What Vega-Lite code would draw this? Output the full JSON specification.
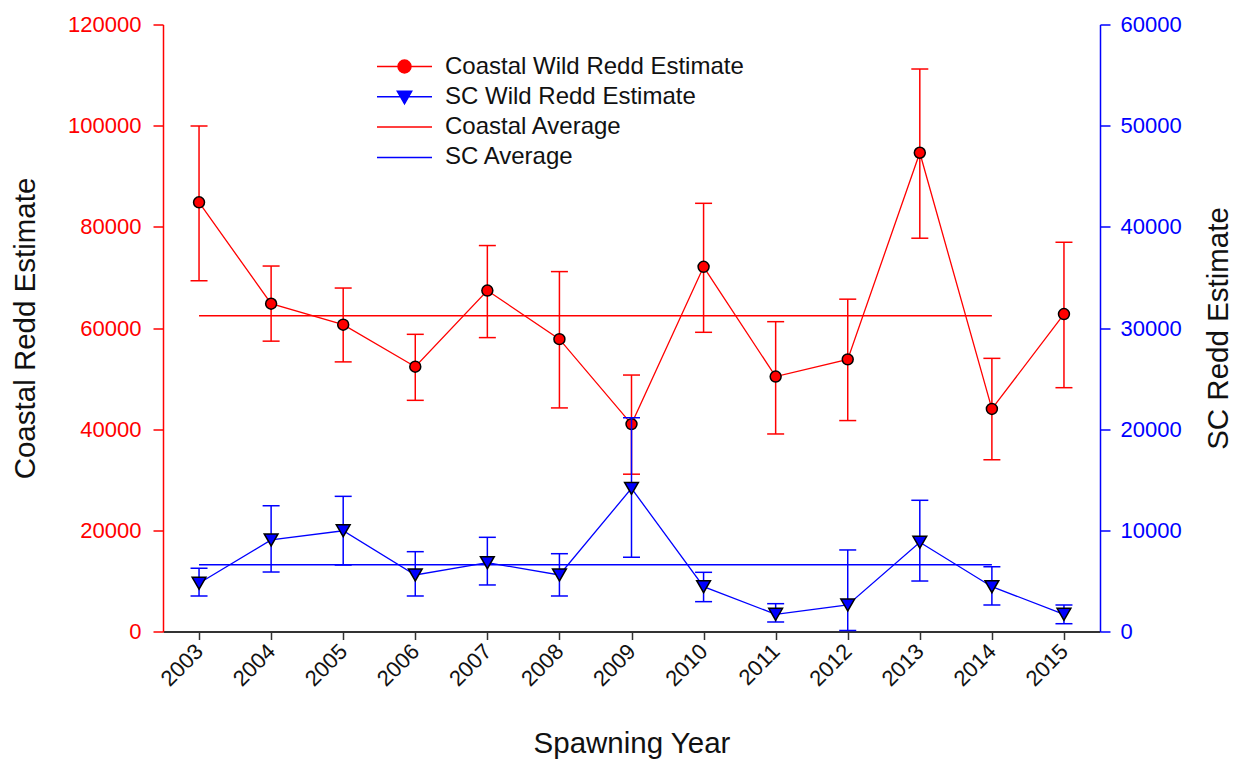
{
  "$schema": "https://vega.github.io/schema/vega-lite/v6.json",
  "width": 937,
  "height": 607,
  "autosize": {"type": "none"},
  "padding": {"left": 163, "top": 24.5, "right": 143, "bottom": 129.5},
  "background": "white",
  "config": {
    "font": "Liberation Sans",
    "view": {"stroke": null},
    "axis": {"grid": false, "titleFontWeight": "normal", "labelFont": "Liberation Sans", "titleFont": "Liberation Sans"}
  },
  "datasets": {
    "redds": [
      {"year": 2003, "coastal": 84850, "c_lo": 69350, "c_hi": 99950, "sc": 4770, "s_lo": 3510, "s_hi": 6250},
      {"year": 2004, "coastal": 64800, "c_lo": 57400, "c_hi": 72250, "sc": 9050, "s_lo": 5880, "s_hi": 12430},
      {"year": 2005, "coastal": 60650, "c_lo": 53300, "c_hi": 67900, "sc": 9960, "s_lo": 6570, "s_hi": 13360},
      {"year": 2006, "coastal": 52350, "c_lo": 45700, "c_hi": 58750, "sc": 5590, "s_lo": 3510, "s_hi": 7890},
      {"year": 2007, "coastal": 67400, "c_lo": 58100, "c_hi": 76300, "sc": 6800, "s_lo": 4600, "s_hi": 9310},
      {"year": 2008, "coastal": 57800, "c_lo": 44200, "c_hi": 71150, "sc": 5590, "s_lo": 3510, "s_hi": 7690},
      {"year": 2009, "coastal": 41000, "c_lo": 31100, "c_hi": 50700, "sc": 14150, "s_lo": 7340, "s_hi": 21130},
      {"year": 2010, "coastal": 72100, "c_lo": 59150, "c_hi": 84650, "sc": 4430, "s_lo": 2950, "s_hi": 5850},
      {"year": 2011, "coastal": 50400, "c_lo": 39050, "c_hi": 61250, "sc": 1700, "s_lo": 940, "s_hi": 2750},
      {"year": 2012, "coastal": 53800, "c_lo": 41700, "c_hi": 65700, "sc": 2620, "s_lo": 100, "s_hi": 8060},
      {"year": 2013, "coastal": 94650, "c_lo": 77750, "c_hi": 111200, "sc": 8820, "s_lo": 4990, "s_hi": 12970},
      {"year": 2014, "coastal": 44000, "c_lo": 33950, "c_hi": 54000, "sc": 4430, "s_lo": 2620, "s_hi": 6400},
      {"year": 2015, "coastal": 62750, "c_lo": 48200, "c_hi": 76950, "sc": 1700, "s_lo": 770, "s_hi": 2620}
    ],
    "avg": [
      {"year": 2003, "end": 2014, "coastal": 62430, "sc": 6600}
    ],
    "legend": [
      {"series": "Coastal Wild Redd Estimate"},
      {"series": "SC Wild Redd Estimate"},
      {"series": "Coastal Average"},
      {"series": "SC Average"}
    ]
  },
  "resolve": {"scale": {"y": "independent"}},
  "layer": [
    {
      "data": {"name": "redds"},
      "layer": [
        {
          "data": {"name": "avg"},
          "mark": {"type": "rule", "color": "#ff0000", "strokeWidth": 1.5},
          "encoding": {
            "x": {
              "field": "year", "type": "quantitative",
              "scale": {"domain": [2002.5, 2015.5], "nice": false, "zero": false},
              "axis": {
                "title": "Spawning Year",
                "values": [2003, 2004, 2005, 2006, 2007, 2008, 2009, 2010, 2011, 2012, 2013, 2014, 2015],
                "format": "d",
                "labelAngle": -45,
                "labelAlign": "right",
                "labelBaseline": "middle",
                "labelFontSize": 22,
                "labelColor": "#111111",
                "labelPadding": 8,
                "domainColor": "#333333",
                "domainWidth": 2,
                "tickColor": "#333333",
                "tickWidth": 1.5,
                "tickSize": 8,
                "titleFontSize": 29.5,
                "titleColor": "#111111",
                "titlePadding": 40
              }
            },
            "x2": {"field": "end"},
            "y": {
              "field": "coastal", "type": "quantitative",
              "scale": {"domain": [0, 120000], "nice": false},
              "axis": {
                "orient": "left",
                "title": "Coastal Redd Estimate",
                "values": [0, 20000, 40000, 60000, 80000, 100000, 120000],
                "format": "d",
                "labelColor": "#ff0000",
                "labelFontSize": 22,
                "labelPadding": 12,
                "domainColor": "#ff0000",
                "domainWidth": 1.5,
                "tickColor": "#ff0000",
                "tickWidth": 1.5,
                "tickSize": 10,
                "titleFontSize": 29.5,
                "titleColor": "#111111",
                "titlePadding": 27
              }
            }
          }
        },
        {
          "mark": {"type": "rule", "color": "#ff0000", "strokeWidth": 1.5},
          "encoding": {
            "x": {"field": "year", "type": "quantitative", "scale": {"domain": [2002.5, 2015.5], "nice": false, "zero": false}},
            "y": {"field": "c_lo", "type": "quantitative", "scale": {"domain": [0, 120000], "nice": false}},
            "y2": {"field": "c_hi"}
          }
        },
        {
          "mark": {"type": "tick", "orient": "horizontal", "color": "#ff0000", "size": 17, "thickness": 1.5, "opacity": 1},
          "encoding": {
            "x": {"field": "year", "type": "quantitative", "scale": {"domain": [2002.5, 2015.5], "nice": false, "zero": false}},
            "y": {"field": "c_lo", "type": "quantitative", "scale": {"domain": [0, 120000], "nice": false}}
          }
        },
        {
          "mark": {"type": "tick", "orient": "horizontal", "color": "#ff0000", "size": 17, "thickness": 1.5, "opacity": 1},
          "encoding": {
            "x": {"field": "year", "type": "quantitative", "scale": {"domain": [2002.5, 2015.5], "nice": false, "zero": false}},
            "y": {"field": "c_hi", "type": "quantitative", "scale": {"domain": [0, 120000], "nice": false}}
          }
        },
        {
          "mark": {"type": "line", "color": "#ff0000", "strokeWidth": 1.3},
          "encoding": {
            "x": {"field": "year", "type": "quantitative", "scale": {"domain": [2002.5, 2015.5], "nice": false, "zero": false}},
            "y": {"field": "coastal", "type": "quantitative", "scale": {"domain": [0, 120000], "nice": false}}
          }
        },
        {
          "mark": {"type": "point", "shape": "circle", "filled": true, "fill": "#ff0000", "stroke": "#000000", "strokeWidth": 1.5, "size": 120, "opacity": 1},
          "encoding": {
            "x": {"field": "year", "type": "quantitative", "scale": {"domain": [2002.5, 2015.5], "nice": false, "zero": false}},
            "y": {"field": "coastal", "type": "quantitative", "scale": {"domain": [0, 120000], "nice": false}}
          }
        }
      ]
    },
    {
      "data": {"name": "redds"},
      "layer": [
        {
          "data": {"name": "avg"},
          "mark": {"type": "rule", "color": "#0000ff", "strokeWidth": 1.5},
          "encoding": {
            "x": {"field": "year", "type": "quantitative", "scale": {"domain": [2002.5, 2015.5], "nice": false, "zero": false}},
            "x2": {"field": "end"},
            "y": {
              "field": "sc", "type": "quantitative",
              "scale": {"domain": [0, 60000], "nice": false},
              "axis": {
                "orient": "right",
                "title": "SC Redd Estimate",
                "titleAngle": 270,
                "values": [0, 10000, 20000, 30000, 40000, 50000, 60000],
                "format": "d",
                "labelColor": "#0000ff",
                "labelFontSize": 22,
                "labelPadding": 10,
                "domainColor": "#0000ff",
                "domainWidth": 1.5,
                "tickColor": "#0000ff",
                "tickWidth": 1.5,
                "tickSize": 10,
                "titleFontSize": 29.5,
                "titleColor": "#111111",
                "titlePadding": 52
              }
            }
          }
        },
        {
          "mark": {"type": "rule", "color": "#0000ff", "strokeWidth": 1.5},
          "encoding": {
            "x": {"field": "year", "type": "quantitative", "scale": {"domain": [2002.5, 2015.5], "nice": false, "zero": false}},
            "y": {"field": "s_lo", "type": "quantitative", "scale": {"domain": [0, 60000], "nice": false}},
            "y2": {"field": "s_hi"}
          }
        },
        {
          "mark": {"type": "tick", "orient": "horizontal", "color": "#0000ff", "size": 17, "thickness": 1.5, "opacity": 1},
          "encoding": {
            "x": {"field": "year", "type": "quantitative", "scale": {"domain": [2002.5, 2015.5], "nice": false, "zero": false}},
            "y": {"field": "s_lo", "type": "quantitative", "scale": {"domain": [0, 60000], "nice": false}}
          }
        },
        {
          "mark": {"type": "tick", "orient": "horizontal", "color": "#0000ff", "size": 17, "thickness": 1.5, "opacity": 1},
          "encoding": {
            "x": {"field": "year", "type": "quantitative", "scale": {"domain": [2002.5, 2015.5], "nice": false, "zero": false}},
            "y": {"field": "s_hi", "type": "quantitative", "scale": {"domain": [0, 60000], "nice": false}}
          }
        },
        {
          "mark": {"type": "line", "color": "#0000ff", "strokeWidth": 1.3},
          "encoding": {
            "x": {"field": "year", "type": "quantitative", "scale": {"domain": [2002.5, 2015.5], "nice": false, "zero": false}},
            "y": {"field": "sc", "type": "quantitative", "scale": {"domain": [0, 60000], "nice": false}}
          }
        },
        {
          "mark": {"type": "point", "shape": "triangle-down", "filled": true, "fill": "#0000ff", "stroke": "#000000", "strokeWidth": 1.5, "size": 190, "opacity": 1},
          "encoding": {
            "x": {"field": "year", "type": "quantitative", "scale": {"domain": [2002.5, 2015.5], "nice": false, "zero": false}},
            "y": {"field": "sc", "type": "quantitative", "scale": {"domain": [0, 60000], "nice": false}}
          }
        }
      ]
    },
    {
      "data": {"name": "legend"},
      "transform": [{"filter": "false"}],
      "mark": {"type": "point", "filled": true, "strokeWidth": 1.5, "opacity": 1},
      "encoding": {
        "fill": {
          "field": "series", "type": "nominal",
          "scale": {
            "domain": ["Coastal Wild Redd Estimate", "SC Wild Redd Estimate", "Coastal Average", "SC Average"],
            "range": ["#ff0000", "#0000ff", "#ff0000", "#0000ff"]
          },
          "legend": {
            "orient": "none",
            "legendX": 213,
            "legendY": 30,
            "title": null,
            "padding": 0,
            "labelFontSize": 24,
            "labelColor": "#111111",
            "labelFont": "Liberation Sans",
            "labelLimit": 0,
            "labelOffset": 12,
            "symbolSize": 3025,
            "symbolStrokeWidth": 1.5,
            "symbolOpacity": 1,
            "clipHeight": 24,
            "rowPadding": 6.3
          }
        },
        "stroke": {
          "field": "series", "type": "nominal",
          "scale": {
            "domain": ["Coastal Wild Redd Estimate", "SC Wild Redd Estimate", "Coastal Average", "SC Average"],
            "range": ["#ff0000", "#0000ff", "#ff0000", "#0000ff"]
          }
        },
        "shape": {
          "field": "series", "type": "nominal",
          "scale": {
            "domain": ["Coastal Wild Redd Estimate", "SC Wild Redd Estimate", "Coastal Average", "SC Average"],
            "range": [
              "M-1,0L1,0M0.236,0A0.236,0.236,0,1,1,-0.236,0A0.236,0.236,0,1,1,0.236,0Z",
              "M-1,0L1,0M-0.26,-0.2L0.26,-0.2L0,0.25Z",
              "M-1,0L1,0",
              "M-1,0L1,0"
            ]
          }
        }
      }
    }
  ]
}
